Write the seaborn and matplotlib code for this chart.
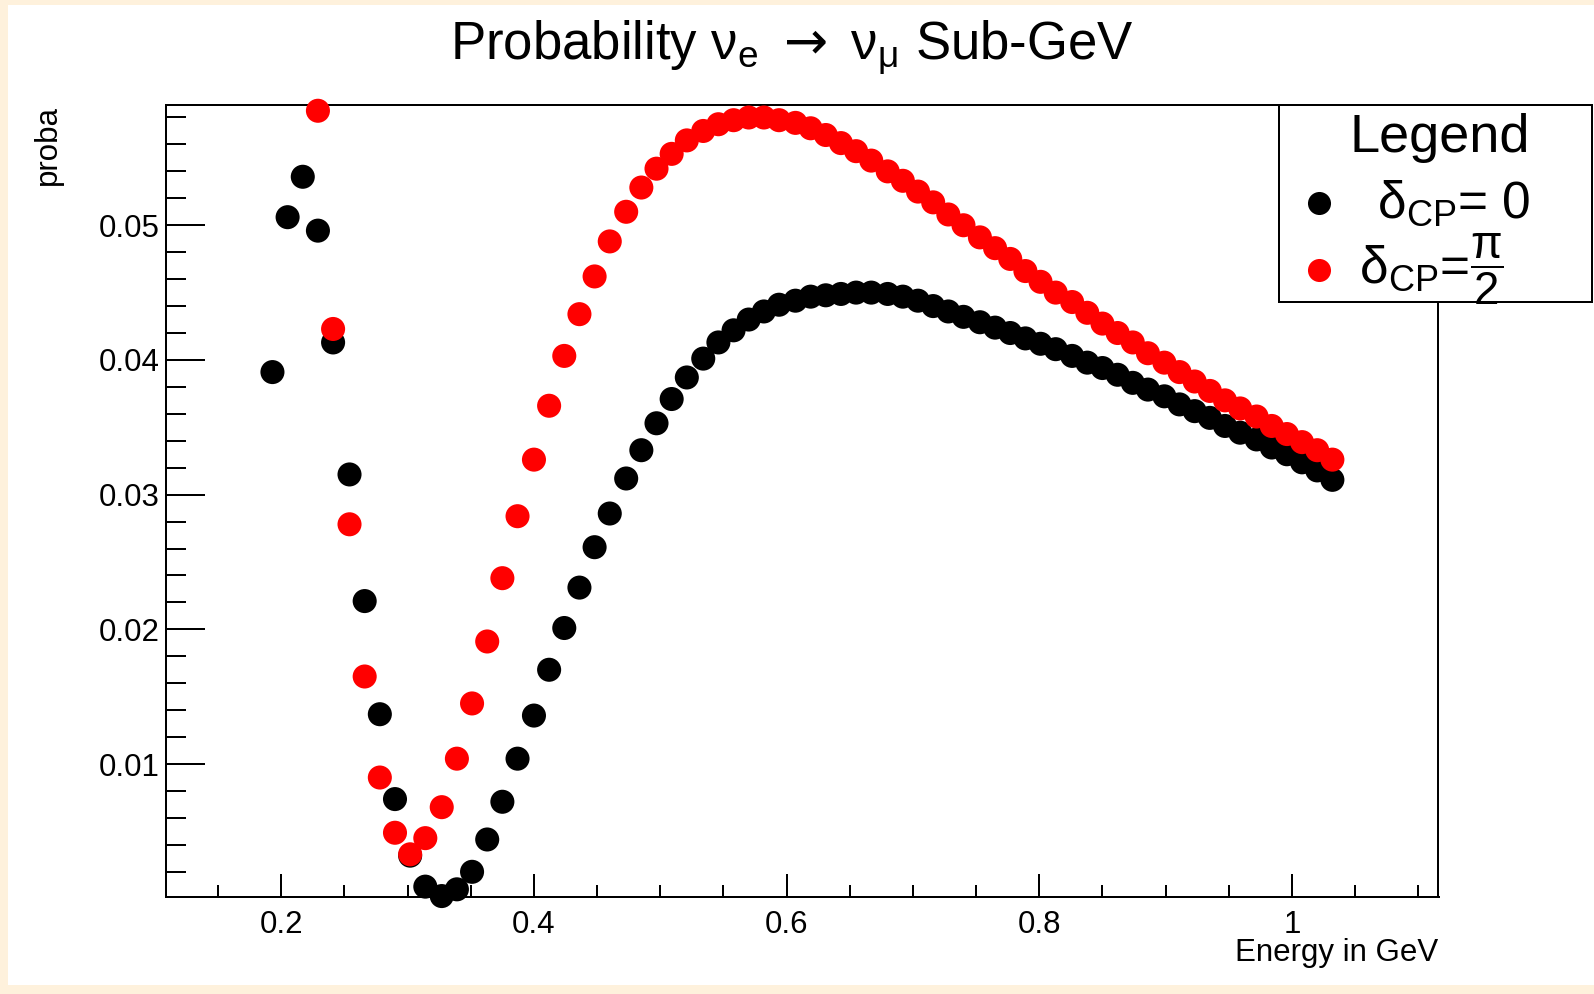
import numpy as np
import pandas as pd
import matplotlib
matplotlib.use("Agg")
import matplotlib.pyplot as plt
import seaborn as sns
from matplotlib.patches import Rectangle
from matplotlib.lines import Line2D
from matplotlib.ticker import FixedLocator

# ---------------- data ----------------
energy = [0.193, 0.205, 0.217, 0.229, 0.241, 0.254, 0.266, 0.278, 0.290, 0.302,
          0.314, 0.327, 0.339, 0.351, 0.363, 0.375, 0.387, 0.400, 0.412, 0.424,
          0.436, 0.448, 0.460, 0.473, 0.485, 0.497, 0.509, 0.521, 0.534, 0.546,
          0.558, 0.570, 0.582, 0.594, 0.607, 0.619, 0.631, 0.643, 0.655, 0.667,
          0.680, 0.692, 0.704, 0.716, 0.728, 0.740, 0.753, 0.765, 0.777, 0.789,
          0.801, 0.813, 0.826, 0.838, 0.850, 0.862, 0.874, 0.886, 0.899, 0.911,
          0.923, 0.935, 0.947, 0.959, 0.972, 0.984, 0.996, 1.008, 1.020, 1.032]

proba_dcp0 = [0.0391, 0.0506, 0.0536, 0.0496, 0.0413, 0.0315, 0.0221, 0.0137, 0.0074, 0.0032,
              0.0009, 0.0002, 0.0007, 0.0020, 0.0044, 0.0072, 0.0104, 0.0136, 0.0170, 0.0201,
              0.0231, 0.0261, 0.0286, 0.0312, 0.0333, 0.0353, 0.0371, 0.0387, 0.0401, 0.0413,
              0.0422, 0.0430, 0.0436, 0.0441, 0.0444, 0.0447, 0.0448, 0.0449, 0.0450, 0.0450,
              0.0449, 0.0447, 0.0444, 0.0440, 0.0436, 0.0432, 0.0428, 0.0424, 0.0420, 0.0416,
              0.0412, 0.0408, 0.0403, 0.0398, 0.0394, 0.0389, 0.0383, 0.0378, 0.0373, 0.0367,
              0.0362, 0.0357, 0.0351, 0.0346, 0.0341, 0.0335, 0.0330, 0.0324, 0.0318, 0.0311]

# delta_CP = pi/2 : the first three energies lie above the drawn range (not visible)
energy_dcp_pi2 = energy[3:]
proba_dcp_pi2 = [0.0585, 0.0423, 0.0278, 0.0165, 0.0090, 0.0049, 0.0033, 0.0045, 0.0068, 0.0104,
                 0.0145, 0.0191, 0.0238, 0.0284, 0.0326, 0.0366, 0.0403, 0.0434, 0.0462, 0.0488,
                 0.0510, 0.0528, 0.0542, 0.0553, 0.0563, 0.0570, 0.0575, 0.0578, 0.0580, 0.0580,
                 0.0578, 0.0576, 0.0572, 0.0567, 0.0561, 0.0555, 0.0548, 0.0540, 0.0533, 0.0525,
                 0.0517, 0.0508, 0.0500, 0.0491, 0.0483, 0.0475, 0.0466, 0.0458, 0.0450, 0.0443,
                 0.0435, 0.0427, 0.0420, 0.0413, 0.0405, 0.0398, 0.0391, 0.0384, 0.0377, 0.0370,
                 0.0364, 0.0358, 0.0351, 0.0345, 0.0339, 0.0333, 0.0326]

series_names = ["dcp0", "dcp_pi2"]
series_colors = {"dcp0": "#000000", "dcp_pi2": "#FF0000"}

x_major = [0.2, 0.4, 0.6, 0.8, 1.0]
x_major_labels = ["0.2", "0.4", "0.6", "0.8", "1"]
x_minor = [0.15, 0.25, 0.3, 0.35, 0.45, 0.5, 0.55, 0.65, 0.7, 0.75, 0.85, 0.9, 0.95, 1.05, 1.1]
y_major = [0.01, 0.02, 0.03, 0.04, 0.05]
y_major_labels = ["0.01", "0.02", "0.03", "0.04", "0.05"]
y_minor = [0.002, 0.004, 0.006, 0.008, 0.012, 0.014, 0.016, 0.018, 0.022, 0.024, 0.026, 0.028,
           0.032, 0.034, 0.036, 0.038, 0.042, 0.044, 0.046, 0.048, 0.052, 0.054, 0.056, 0.058]

title = r"Probability $\mathrm{\nu_{e}}$ $\mathsf{\rightarrow}$ $\mathrm{\nu_{\mu}}$ Sub-GeV"
xlabel = "Energy in GeV"
ylabel = "proba"

# ---------------- style ----------------
sns.set_style("white")
plt.rcParams["font.family"] = ["Liberation Sans", "DejaVu Sans"]
plt.rcParams["mathtext.fontset"] = "custom"
plt.rcParams["mathtext.rm"] = "Liberation Sans"
plt.rcParams["mathtext.it"] = "Liberation Sans:italic"
plt.rcParams["mathtext.bf"] = "Liberation Sans:bold"
plt.rcParams["mathtext.sf"] = "DejaVu Sans"
plt.rcParams["text.color"] = "black"
plt.rcParams["axes.labelcolor"] = "black"

W, H = 1594, 994
fig = plt.figure(figsize=(W / 100, H / 100), dpi=100, facecolor="#FEF1DC")
fig.add_artist(Rectangle((8 / W, 1 - 985 / H), 1 - 8 / W, (985 - 5) / H,
                         transform=fig.transFigure, facecolor="white",
                         edgecolor="none", zorder=-10))

L, R, T, B = 165.7, 1438.5, 104.7, 896.6
ax = fig.add_axes([L / W, 1 - B / H, (R - L) / W, (B - T) / H])
ax.set_facecolor("white")

df = pd.DataFrame({
    "energy": energy + energy_dcp_pi2,
    "proba": proba_dcp0 + proba_dcp_pi2,
    "series": [series_names[0]] * len(energy) + [series_names[1]] * len(energy_dcp_pi2),
})
sns.scatterplot(data=df, x="energy", y="proba", hue="series", palette=series_colors,
                s=300, linewidth=0, legend=False, ax=ax, clip_on=False, zorder=3)

ax.set_xlim(0.1085, 1.1160)
ax.set_ylim(0.00016, 0.05895)

ax.xaxis.set_major_locator(FixedLocator(x_major))
ax.xaxis.set_minor_locator(FixedLocator(x_minor))
ax.set_xticklabels(x_major_labels)
ax.yaxis.set_major_locator(FixedLocator(y_major))
ax.yaxis.set_minor_locator(FixedLocator(y_minor))
ax.set_yticklabels(y_major_labels)

for sp in ax.spines.values():
    sp.set_visible(True)
    sp.set_color("black")
    sp.set_linewidth(1.44)

ax.tick_params(axis="both", which="both", direction="in", bottom=True, left=True,
               top=False, right=False, width=1.44, color="black", labelcolor="black")
ax.tick_params(axis="y", which="major", length=28, pad=4.5, labelsize=22.5)
ax.tick_params(axis="y", which="minor", length=14.4)
ax.tick_params(axis="x", which="major", length=16.6, pad=10, labelsize=22.5)
ax.tick_params(axis="x", which="minor", length=8.6)

ax.set_xlabel(xlabel, loc="right", fontsize=22.5)
ax.xaxis.label.set_va("baseline")
ax.xaxis.set_label_coords(1.0, -(960.6 - B) / (B - T))
ax.set_ylabel(ylabel, loc="top", fontsize=22.5)
ax.yaxis.set_label_coords(-(L - 63.3) / (R - L), 1.0)

fig.text(791.5 / W, 1 - 59 / H, title, ha="center", va="baseline", fontsize=38)

# legend (ROOT-style box)
fig.add_artist(Rectangle((1279.3 / W, 1 - 301.7 / H), (1592 - 1279.3) / W, (301.7 - 104.7) / H,
                         transform=fig.transFigure, facecolor="white", edgecolor="black",
                         linewidth=1.44, zorder=5))
fig.text(1440 / W, 1 - 151.7 / H, "Legend", ha="center", va="baseline", fontsize=39, zorder=6)
fig.add_artist(Line2D([1319 / W], [1 - 203.3 / H], marker="o", markersize=16.6, linestyle="none",
                      color=series_colors["dcp0"], markeredgewidth=0,
                      transform=fig.transFigure, zorder=6))
fig.add_artist(Line2D([1319 / W], [1 - 270 / H], marker="o", markersize=16.6, linestyle="none",
                      color=series_colors["dcp_pi2"], markeredgewidth=0,
                      transform=fig.transFigure, zorder=6))
fig.text(1377 / W, 1 - 218 / H, r"$\mathrm{\delta_{CP}}$= 0", ha="left", va="baseline",
         fontsize=37, zorder=6)
fig.text(1359 / W, 1 - 283 / H, r"$\mathrm{\delta_{CP}}$=", ha="left", va="baseline",
         fontsize=37, zorder=6)
fig.text(1487 / W, 1 - 269 / H, r"$\dfrac{\mathrm{\pi}}{2}$", ha="center", va="center",
         fontsize=33, zorder=6)

fig.savefig("out.png", dpi=100, facecolor=fig.get_facecolor())
